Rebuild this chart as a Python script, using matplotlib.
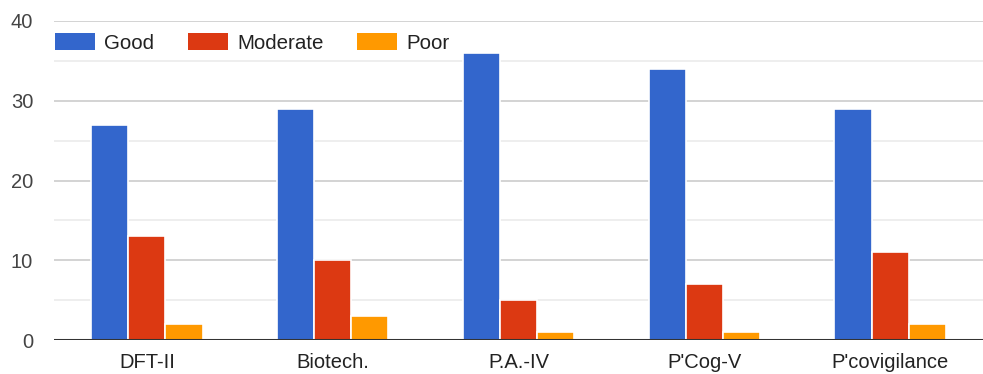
import numpy as np
import matplotlib.pyplot as plt
from matplotlib.patches import Patch

plt.rcParams['font.family'] = ['Liberation Sans', 'DejaVu Sans']

subjects = ['DFT-II', 'Biotech.', 'P.A.-IV', "P'Cog-V", "P'covigilance"]
good = [27, 29, 36, 34, 29]
moderate = [13, 10, 5, 7, 11]
poor = [2, 3, 1, 1, 2]

series = [('Good', good, '#3366cc'),
          ('Moderate', moderate, '#dc3912'),
          ('Poor', poor, '#ff9900')]

fig = plt.figure(figsize=(9.83, 3.74), dpi=100)
ax = fig.add_axes([54 / 983, 34 / 374, 929 / 983, 319 / 374])

x = np.arange(len(subjects))
w = 0.2
for i, (name, vals, col) in enumerate(series):
    ax.bar(x + (i - 1) * w, vals, width=w, color=col,
           edgecolor='white', linewidth=1.2, zorder=3)

ax.set_xlim(-0.5, len(subjects) - 0.5)
ax.set_ylim(0, 40)
ax.set_yticks([0, 10, 20, 30, 40])
ax.set_yticks([5, 15, 25, 35], minor=True)
ax.grid(axis='y', which='major', color='#cccccc', linewidth=1.2, zorder=0)
ax.grid(axis='y', which='minor', color='#ebebeb', linewidth=1.2, zorder=0)
ax.axhline(0, color='#333333', linewidth=2.2, zorder=4)

for s in ax.spines.values():
    s.set_visible(False)
ax.set_xticks(x)
ax.set_xticklabels(subjects)
ax.tick_params(axis='both', which='both', length=0, labelsize=14.5, labelcolor='#222222')
ax.tick_params(axis='x', pad=9)
ax.tick_params(axis='y', pad=15, labelcolor='#444444')

handles = [Patch(facecolor=col, label=name) for name, _, col in series]
ax.legend(handles=handles, ncol=3, loc='center left', bbox_to_anchor=(0.001, 0.931),
          frameon=False, fontsize=14.8, borderpad=0, borderaxespad=0,
          handlelength=1.95, handleheight=0.87, handletextpad=0.44,
          columnspacing=1.65, labelcolor='#222222')

fig.savefig('out.png', dpi=100)
